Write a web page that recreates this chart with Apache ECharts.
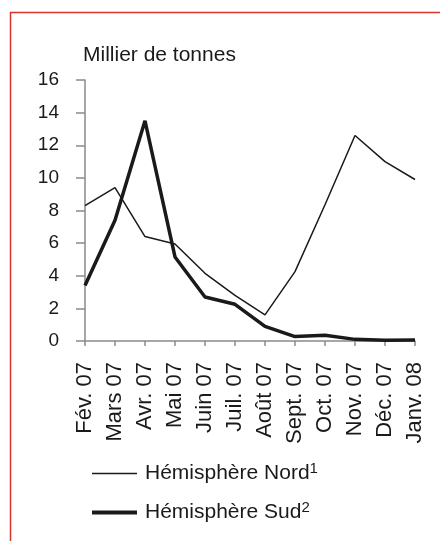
<!DOCTYPE html>
<html>
<head>
<meta charset="utf-8">
<script src="https://cdn.jsdelivr.net/npm/echarts@6/dist/echarts.min.js"></script>
<style>
	html, body { margin: 0; padding: 0; background: #fff; }
	#chart { width: 440px; height: 541px; }
</style>
</head>
<body>
<div id="chart"></div>
<script>
// months, feb 2007 -> jan 2008
var months = ['Fév. 07', 'Mars 07', 'Avr. 07', 'Mai 07', 'Juin 07', 'Juil. 07', 'Août 07', 'Sept. 07', 'Oct. 07', 'Nov. 07', 'Déc. 07', 'Janv. 08'];

// thousand tonnes
var nord = [8.3, 9.4, 6.4, 5.95, 4.15, 2.8, 1.6, 4.25, 8.35, 12.6, 11.0, 9.9];
var sud = [3.4, 7.4, 13.5, 5.15, 2.7, 2.25, 0.9, 0.27, 0.35, 0.1, 0.04, 0.06];

var yTicks = { min: 0, max: 16, step: 2 };

var font = 'Liberation Sans, Arial, sans-serif';
var ink = '#1a1a1a';
var axisGrey = '#8a8a8a';
var thin = 1.5;
var thick = 3.5;

var chart = echarts.init(document.getElementById('chart'), null, { renderer: 'canvas' });

var option = {
	backgroundColor: '#fff',
	animation: false,
	textStyle: { fontFamily: font, color: ink },
	grid: { left: 85, right: 25, top: 80, bottom: 200 },
	xAxis: {
		type: 'category',
		data: months,
		boundaryGap: false,
		axisLine: { lineStyle: { color: axisGrey, width: 1.5 } },
		axisTick: { show: true, length: 5, lineStyle: { color: axisGrey, width: 1.5 } },
		axisLabel: { rotate: 90, margin: 21, fontSize: 22, color: ink, fontFamily: font, interval: 0 },
		splitLine: { show: false },
	},
	yAxis: {
		type: 'value',
		min: yTicks.min,
		max: yTicks.max,
		interval: yTicks.step,
		name: 'Millier de tonnes',
		nameLocation: 'end',
		nameGap: 14,
		nameTextStyle: { align: 'left', fontSize: 21, color: ink, fontFamily: font, padding: [0, 0, 0, -2] },
		axisLine: { show: true, lineStyle: { color: axisGrey, width: 1.5 } },
		axisTick: { show: true, length: 9, lineStyle: { color: axisGrey, width: 1.5 } },
		axisLabel: { margin: 26, fontSize: 19, color: ink, fontFamily: font },
		splitLine: { show: false },
	},
	legend: {
		orient: 'vertical',
		left: 85,
		top: 456,
		itemWidth: 45,
		itemHeight: 14,
		itemGap: 16,
		// hide the symbol dot, keep only the line
		itemStyle: { color: 'rgba(0,0,0,0)', borderWidth: 0 },
		textStyle: {
			fontSize: 21,
			color: ink,
			fontFamily: font,
			rich: {
				txt: { fontSize: 21, color: ink, fontFamily: font, padding: [0, 0, 0, 3] },
				sup: { fontSize: 15, color: ink, fontFamily: font, padding: [0, 0, 10, 0] },
			},
		},
		formatter: function(name) {
			if (name == 'Hémisphère Nord') {
				return '{txt|Hémisphère Nord}{sup|1}';
			}
			return '{txt|Hémisphère Sud}{sup|2}';
		},
		data: [
			{ name: 'Hémisphère Nord', lineStyle: { width: thin, color: ink } },
			{ name: 'Hémisphère Sud', lineStyle: { width: thick + 0.5, color: ink } },
		],
	},
	series: [
		{
			name: 'Hémisphère Nord',
			type: 'line',
			data: nord,
			symbol: 'none',
			lineStyle: { color: ink, width: thin },
			itemStyle: { color: ink },
		},
		{
			name: 'Hémisphère Sud',
			type: 'line',
			data: sud,
			symbol: 'none',
			lineStyle: { color: ink, width: thick },
			itemStyle: { color: ink },
		},
	],
	graphic: [
		// red frame, left and top edges only
		{
			type: 'line',
			shape: { x1: 10.5, y1: 12, x2: 10.5, y2: 541 },
			style: { stroke: '#d9322b', lineWidth: 1.5 },
		},
		{
			type: 'line',
			shape: { x1: 10, y1: 12.5, x2: 440, y2: 12.5 },
			style: { stroke: '#d9322b', lineWidth: 1.5 },
		},
	],
};

chart.setOption(option);
</script>
</body>
</html>
